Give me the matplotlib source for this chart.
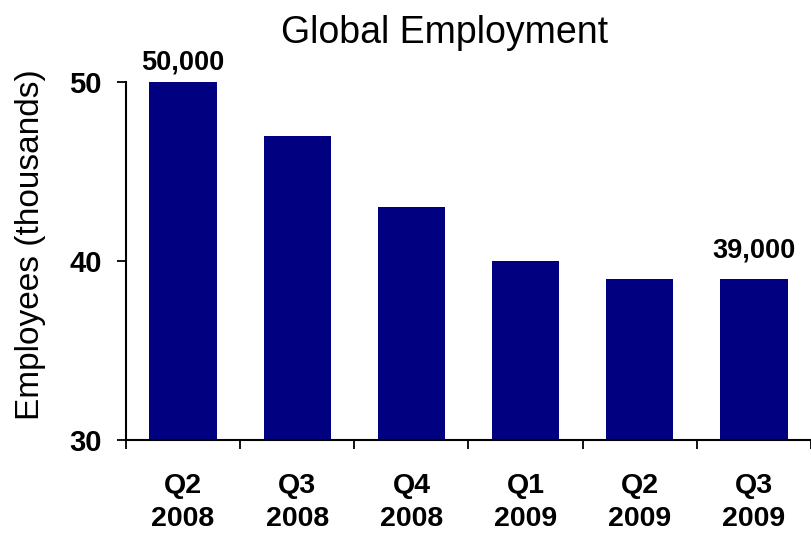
import numpy as np
import matplotlib.pyplot as plt

plt.rcParams['font.family'] = ['Liberation Sans', 'DejaVu Sans']

quarters = ['Q2\n2008', 'Q3\n2008', 'Q4\n2008', 'Q1\n2009', 'Q2\n2009', 'Q3\n2009']
employees = [50, 47, 43, 40, 39, 39]  # thousands
labelled = {0: '50,000', 5: '39,000'}
label_offsets = {0: 5, 5: 11}

W, H = 811, 536
fig = plt.figure(figsize=(W / 100, H / 100), dpi=100)
# axes box in pixels: left 126, right 811, bottom 440, top 82
ax = fig.add_axes([126 / W, (H - 440) / H, (811 - 126) / W, (440 - 82) / H])

x = np.arange(len(quarters))
ax.bar(x, employees, width=0.59, color='#000080', zorder=2)

for i, txt in labelled.items():
    ax.annotate(txt, (x[i], employees[i]), xytext=(0, label_offsets[i]),
                textcoords='offset points', ha='center', va='bottom',
                fontsize=19.5, fontweight='bold', annotation_clip=False)

ax.set_xlim(-0.5, -0.5 + (811 - 126) / 114.8)
ax.set_ylim(30, 50)
ax.set_yticks([30, 40, 50])
ax.set_yticklabels(['30', '40', '50'], fontsize=21, fontweight='bold')

ax.set_xticks(x)
ax.set_xticklabels(quarters, fontsize=20.5, fontweight='bold', linespacing=1.35)
ax.set_xticks(np.arange(-0.5, len(quarters), 1.0), minor=True)
ax.tick_params(axis='x', which='major', length=0, pad=24)
ax.tick_params(axis='x', which='minor', length=6.5, width=1.3, direction='out')
ax.tick_params(axis='y', length=6.5, width=1.3, direction='out', pad=11)

for side in ['top', 'right']:
    ax.spines[side].set_visible(False)
for side in ['left', 'bottom']:
    ax.spines[side].set_linewidth(1.5)

ax.set_ylabel('Employees (thousands)', fontsize=24)
ax.yaxis.set_label_coords((46 - 126) / 685, (440 - 245) / 358)
fig.text(445 / W, 1 - 43 / H, 'Global Employment', ha='center', va='baseline', fontsize=27)

fig.savefig('out.png', dpi=100)
